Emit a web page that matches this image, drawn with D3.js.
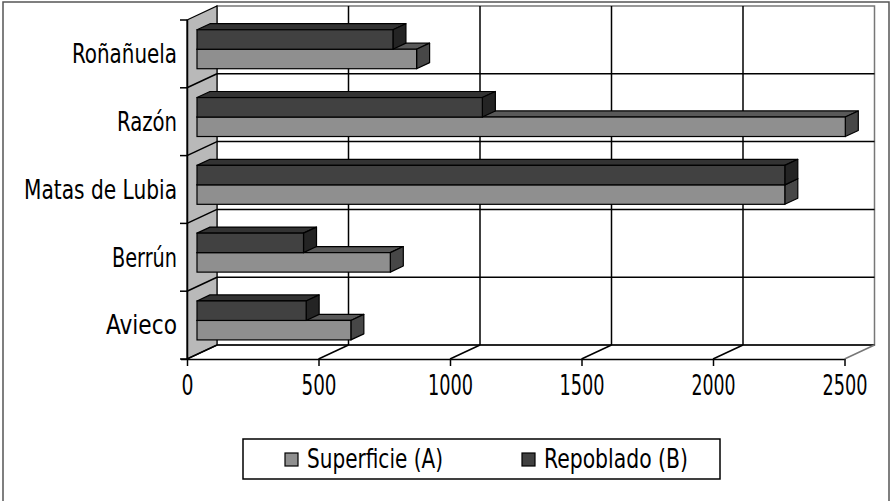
<!DOCTYPE html>
<html>
<head>
<meta charset="utf-8">
<script src="https://cdn.jsdelivr.net/npm/d3@7"></script>
<style>
  html, body { margin: 0; padding: 0; background: #fff; }
  svg { display: block; }
  text { font-family: "DejaVu Sans Condensed", "Liberation Sans Narrow", "DejaVu Sans", sans-serif; fill: #000; }
</style>
</head>
<body>
<svg id="chart" width="892" height="501"></svg>
<script>
// Data: planted area vs. reforested area per site
const categories = ["Roñañuela", "Razón", "Matas de Lubia", "Berrún", "Avieco"];
const seriesNames = ["Repoblado (B)", "Superficie (A)"];
const superficie = [835, 2465, 2235, 735, 585];
const repoblado = [745, 1085, 2235, 405, 415];
const xTicks = [0, 500, 1000, 1500, 2000, 2500];
const legendLabels = ["Superficie (A)", "Repoblado (B)"];

const svg = d3.select("#chart");

// Front plane of the 3D box and its depth offset
const plotLeft = 187, plotRight = 844.5, plotTop = 20, plotBottom = 359;
const depthX = 30, depthY = 14;
// bars sit between these fractions of the depth
const barStart = 1 / 3, barEnd = 23 / 30;

const x = d3.scaleLinear().domain([0, 2500]).range([plotLeft, plotRight]);
const y = d3.scaleBand().domain(categories).range([plotTop, plotBottom]).padding(0);
const yInner = d3.scaleBand().domain(seriesNames).range([0, y.bandwidth()]).paddingInner(0).paddingOuter(0.74);

const colors = {
  "Superficie (A)": { front: "#8f8f8f", top: "#595959", side: "#474747" },
  "Repoblado (B)": { front: "#414141", top: "#333333", side: "#242424" }
};

// Outer frame
svg.append("rect").attr("x", 3).attr("y", 2).attr("width", 886).attr("height", 520)
  .attr("fill", "#fff").attr("stroke", "#555").attr("stroke-width", 1.5);

// Back wall
const back = svg.append("g").attr("transform", `translate(${depthX},${-depthY})`);
back.append("rect")
  .attr("x", plotLeft).attr("y", plotTop)
  .attr("width", plotRight - plotLeft).attr("height", plotBottom - plotTop)
  .attr("fill", "#fff").attr("stroke", "#777").attr("stroke-width", 1.5);

// Vertical gridlines on the back wall
back.selectAll("line.vgrid").data(xTicks.slice(1, -1)).join("line")
  .attr("x1", d => x(d)).attr("x2", d => x(d))
  .attr("y1", plotTop).attr("y2", plotBottom)
  .attr("stroke", "#000").attr("stroke-width", 1.5);

// Horizontal gridlines on the back wall at category boundaries
const bounds = categories.slice(1).map(c => y(c));
back.selectAll("line.hgrid").data(bounds).join("line")
  .attr("x1", plotLeft).attr("x2", plotRight)
  .attr("y1", d => d).attr("y2", d => d)
  .attr("stroke", "#000").attr("stroke-width", 1.5);

// Floor back edge
back.append("line")
  .attr("x1", plotLeft).attr("x2", plotRight)
  .attr("y1", plotBottom).attr("y2", plotBottom)
  .attr("stroke", "#000").attr("stroke-width", 1.5);

// Side wall (grey)
svg.append("path")
  .attr("d", `M${plotLeft},${plotTop} L${plotLeft + depthX},${plotTop - depthY} L${plotLeft + depthX},${plotBottom - depthY} L${plotLeft},${plotBottom} Z`)
  .attr("fill", "#b9b9b9").attr("stroke", "#000").attr("stroke-width", 1.2);

// Diagonals across side wall
svg.selectAll("line.sdiag").data(bounds).join("line")
  .attr("x1", plotLeft).attr("y1", d => d)
  .attr("x2", plotLeft + depthX).attr("y2", d => d - depthY)
  .attr("stroke", "#000").attr("stroke-width", 1.5);

// Floor diagonals at x ticks
svg.selectAll("line.fdiag").data(xTicks).join("line")
  .attr("x1", d => x(d)).attr("y1", plotBottom)
  .attr("x2", d => x(d) + depthX).attr("y2", plotBottom - depthY)
  .attr("stroke", d => d === 2500 ? "#777" : "#000").attr("stroke-width", 1.5);

// Bars
const bx0 = depthX * barStart, by0 = depthY * barStart;
const bdx = depthX * (barEnd - barStart), bdy = depthY * (barEnd - barStart);

const barData = [];
categories.forEach((c, i) => {
  barData.push({ cat: c, series: "Superficie (A)", value: superficie[i], order: i });
  barData.push({ cat: c, series: "Repoblado (B)", value: repoblado[i], order: i });
});
// draw from the bottom of the chart upward so upper bars cover lower top faces
barData.sort((a, b) => (b.order - a.order) || (a.series === "Superficie (A)" ? -1 : 1));

const bars = svg.append("g").selectAll("g.bar").data(barData).join("g");
bars.each(function (d) {
  const g = d3.select(this);
  const xa = x(0) + bx0, xb = x(d.value) + bx0;
  const ya = y(d.cat) + yInner(d.series) - by0;
  const h = yInner.bandwidth();
  const col = colors[d.series];
  g.append("path")
    .attr("d", `M${xa},${ya} L${xa + bdx},${ya - bdy} L${xb + bdx},${ya - bdy} L${xb},${ya} Z`)
    .attr("fill", col.top).attr("stroke", "#000").attr("stroke-width", 1.2).attr("stroke-linejoin", "round");
  g.append("path")
    .attr("d", `M${xb},${ya} L${xb + bdx},${ya - bdy} L${xb + bdx},${ya + h - bdy} L${xb},${ya + h} Z`)
    .attr("fill", col.side).attr("stroke", "#000").attr("stroke-width", 1.2).attr("stroke-linejoin", "round");
  g.append("rect")
    .attr("x", xa).attr("y", ya).attr("width", xb - xa).attr("height", h)
    .attr("fill", col.front).attr("stroke", "#000").attr("stroke-width", 1.2);
});

// X axis on the front plane
const xAxis = d3.axisBottom(x).tickValues(xTicks).tickSize(7).tickPadding(10).tickFormat(d3.format("d"));
const xg = svg.append("g").attr("transform", `translate(0,${plotBottom})`).call(xAxis);
xg.select(".domain").attr("stroke", "#000").attr("stroke-width", 1.5)
  .attr("d", `M${plotLeft - 6},0.5H${plotRight}`);
xg.selectAll(".tick line").attr("stroke", "#000").attr("stroke-width", 1.5);
const tickWidths = { "0": 12, "500": 35, "1000": 45, "1500": 45, "2000": 44, "2500": 45 };
xg.selectAll(".tick text")
  .attr("font-size", 28).attr("dy", "0.68em")
  .attr("textLength", d => tickWidths[String(d)])
  .attr("lengthAdjust", "spacingAndGlyphs");

// Y axis on the front plane
const yAxis = d3.axisLeft(y).tickSize(0).tickPadding(10);
const yg = svg.append("g").attr("transform", `translate(${plotLeft},0)`).call(yAxis);
yg.select(".domain").attr("stroke", "#000").attr("stroke-width", 1.5)
  .attr("d", `M0.5,${plotTop}V${plotBottom}`);
const catWidths = { "Roñañuela": 105, "Razón": 60, "Matas de Lubia": 153, "Berrún": 65, "Avieco": 71 };
yg.selectAll(".tick text")
  .attr("font-size", 26).attr("dy", "0.36em")
  .attr("textLength", d => catWidths[d])
  .attr("lengthAdjust", "spacingAndGlyphs");
// boundary ticks between categories
yg.selectAll("line.cat-tick").data([plotTop, ...bounds, plotBottom]).join("line")
  .attr("x1", -7).attr("x2", 0).attr("y1", d => d).attr("y2", d => d)
  .attr("stroke", "#000").attr("stroke-width", 1.5);

// Legend
const legend = svg.append("g");
legend.append("rect").attr("x", 243).attr("y", 439).attr("width", 477).attr("height", 40)
  .attr("fill", "#fff").attr("stroke", "#000").attr("stroke-width", 1.5);
const legendX = [285, 522];
const legendW = [136, 144];
const legendItems = legend.selectAll("g.item").data(legendLabels).join("g")
  .attr("transform", (d, i) => `translate(${legendX[i]},453)`);
legendItems.append("rect").attr("width", 13).attr("height", 13)
  .attr("fill", d => colors[d].front).attr("stroke", "#000").attr("stroke-width", 1.2);
legendItems.append("text").attr("x", 22).attr("y", 15)
  .attr("font-size", 26)
  .attr("textLength", (d, i) => legendW[i]).attr("lengthAdjust", "spacingAndGlyphs")
  .text(d => d);
</script>
</body>
</html>
